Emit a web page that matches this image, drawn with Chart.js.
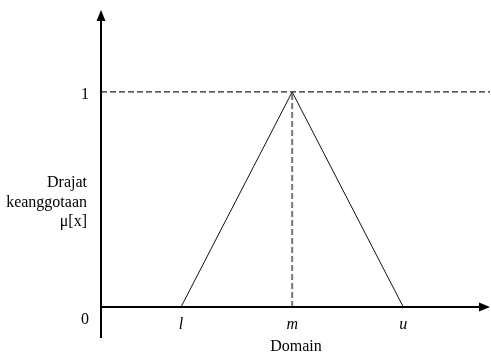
<!DOCTYPE html>
<html>
<head>
<meta charset="utf-8">
<script src="https://cdn.jsdelivr.net/npm/chart.js@4"></script>
<style>
  html, body { margin: 0; padding: 0; background: #fff; }
  canvas { display: block; }
</style>
</head>
<body>
<canvas id="fuzzy-chart" width="491" height="356"></canvas>
<script>
(function () {
  'use strict';

  // Triangular membership function (l, m, u)
  const pointLabels = ['l', 'm', 'u'];
  const domainValues = [1, 2, 3];
  const membership = [0, 1, 0];

  // Y tick labels
  const yTickValues = [0, 1];
  const yTickLabels = ['0', '1'];

  const yAxisTitle = ['Drajat', 'keanggotaan', '\u03bc[x]'];
  const xAxisTitle = 'Domain';

  const xMin = 0.28, xMax = 3.78;
  const yMin = -0.144, yMax = 1.381;

  const serif = '"Liberation Serif", "Times New Roman", serif';

  // Axes, arrows and labels
  const axesPlugin = {
    id: 'fuzzyAxes',
    afterDatasetsDraw(chart) {
      const ctx = chart.ctx;
      const area = chart.chartArea;
      const xs = chart.scales.x;
      const ys = chart.scales.y;
      const y0 = ys.getPixelForValue(0);

      ctx.save();
      ctx.strokeStyle = '#000';
      ctx.fillStyle = '#000';
      ctx.lineWidth = 2;

      // y axis
      ctx.beginPath();
      ctx.moveTo(area.left, area.bottom);
      ctx.lineTo(area.left, area.top + 8);
      ctx.stroke();
      ctx.beginPath();
      ctx.moveTo(area.left, area.top);
      ctx.lineTo(area.left - 4.5, area.top + 11);
      ctx.lineTo(area.left + 4.5, area.top + 11);
      ctx.closePath();
      ctx.fill();

      // x axis
      ctx.beginPath();
      ctx.moveTo(area.left, y0);
      ctx.lineTo(area.right - 8, y0);
      ctx.stroke();
      ctx.beginPath();
      ctx.moveTo(area.right, y0);
      ctx.lineTo(area.right - 11, y0 - 4.5);
      ctx.lineTo(area.right - 11, y0 + 4.5);
      ctx.closePath();
      ctx.fill();

      // y ticks
      ctx.font = '16px ' + serif;
      ctx.textAlign = 'center';
      ctx.textBaseline = 'middle';
      yTickValues.forEach((v, i) => {
        let py = ys.getPixelForValue(v);
        if (v === 0) py += 13;
        else py += 3;
        ctx.fillText(yTickLabels[i], area.left - 16, py);
      });

      // point labels on the domain
      ctx.font = 'italic 16px ' + serif;
      pointLabels.forEach((lab, i) => {
        ctx.fillText(lab, xs.getPixelForValue(domainValues[i]), y0 + 18);
      });

      // axis titles
      ctx.font = '16px ' + serif;
      ctx.fillText(xAxisTitle, 296, y0 + 40);
      ctx.textAlign = 'right';
      yAxisTitle.forEach((line, i) => {
        ctx.fillText(line, area.left - 14, 183 + i * 19.5);
      });
      ctx.restore();
    }
  };

  new Chart(document.getElementById('fuzzy-chart'), {
    type: 'scatter',
    data: {
      datasets: [
        {
          label: 'level 1',
          data: [{ x: xMin, y: 1 }, { x: xMax, y: 1 }],
          showLine: true,
          borderColor: '#222',
          borderWidth: 1.3,
          borderDash: [6, 3],
          pointRadius: 0
        },
        {
          label: 'peak',
          data: [{ x: domainValues[1], y: 0 }, { x: domainValues[1], y: membership[1] }],
          showLine: true,
          borderColor: '#777',
          borderWidth: 2,
          borderDash: [6, 3],
          pointRadius: 0
        },
        {
          label: 'membership',
          data: domainValues.map((d, i) => ({ x: d, y: membership[i] })),
          showLine: true,
          borderColor: '#111',
          borderWidth: 1,
          pointRadius: 0,
          tension: 0
        }
      ]
    },
    options: {
      responsive: false,
      animation: false,
      layout: {
        padding: { left: 101, right: 1, top: 10, bottom: 18 }
      },
      plugins: {
        legend: { display: false },
        tooltip: { enabled: false }
      },
      scales: {
        x: { type: 'linear', min: xMin, max: xMax, display: false },
        y: { type: 'linear', min: yMin, max: yMax, display: false }
      }
    },
    plugins: [axesPlugin]
  });
})();
</script>
</body>
</html>
